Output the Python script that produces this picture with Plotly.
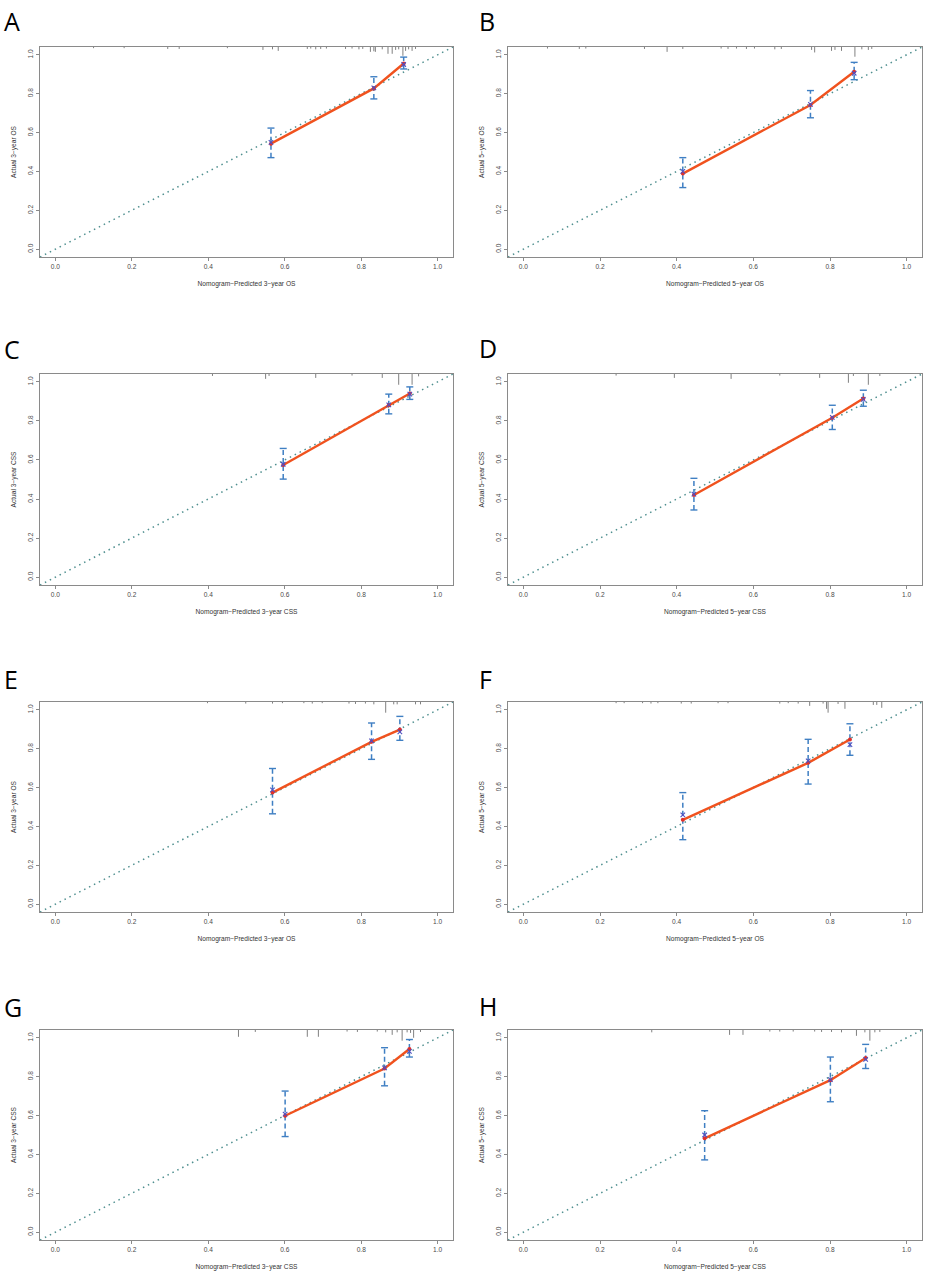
import plotly.graph_objects as go

# ---------------- data ----------------
panel_labels = ["A", "B", "C", "D", "E", "F", "G", "H"]
x_titles = ["Nomogram−Predicted 3−year OS", "Nomogram−Predicted 5−year OS",
            "Nomogram−Predicted 3−year CSS", "Nomogram−Predicted 5−year CSS",
            "Nomogram−Predicted 3−year OS", "Nomogram−Predicted 5−year OS",
            "Nomogram−Predicted 3−year CSS", "Nomogram−Predicted 5−year CSS"]
y_titles = ["Actual 3−year OS", "Actual 5−year OS",
            "Actual 3−year CSS", "Actual 5−year CSS",
            "Actual 3−year OS", "Actual 5−year OS",
            "Actual 3−year CSS", "Actual 5−year CSS"]

tick_vals = [0.0, 0.2, 0.4, 0.6, 0.8, 1.0]
tick_text = ["0.0", "0.2", "0.4", "0.6", "0.8", "1.0"]

# predicted (x) and observed (y) calibration points
pred = [[0.564, 0.833, 0.911],
        [0.416, 0.749, 0.863],
        [0.596, 0.872, 0.927],
        [0.445, 0.806, 0.887],
        [0.568, 0.827, 0.901],
        [0.416, 0.743, 0.852],
        [0.601, 0.861, 0.926],
        [0.473, 0.801, 0.893]]
obs = [[0.543, 0.827, 0.955],
       [0.389, 0.742, 0.913],
       [0.574, 0.880, 0.940],
       [0.421, 0.816, 0.915],
       [0.574, 0.835, 0.898],
       [0.434, 0.727, 0.847],
       [0.599, 0.842, 0.942],
       [0.483, 0.782, 0.896]]
# bias-corrected estimates (blue X)
bc = [[0.550, 0.830, 0.950],
      [0.400, 0.745, 0.905],
      [0.578, 0.882, 0.937],
      [0.425, 0.818, 0.910],
      [0.588, 0.840, 0.886],
      [0.460, 0.737, 0.821],
      [0.607, 0.845, 0.930],
      [0.500, 0.785, 0.889]]
# confidence limits
ci_lo = [[0.471, 0.773, 0.927],
         [0.317, 0.676, 0.872],
         [0.502, 0.836, 0.910],
         [0.344, 0.756, 0.875],
         [0.465, 0.745, 0.843],
         [0.332, 0.618, 0.766],
         [0.492, 0.753, 0.901],
         [0.372, 0.671, 0.842]]
ci_hi = [[0.623, 0.887, 0.988],
         [0.471, 0.816, 0.961],
         [0.659, 0.937, 0.974],
         [0.506, 0.880, 0.957],
         [0.698, 0.932, 0.966],
         [0.574, 0.848, 0.928],
         [0.726, 0.949, 0.991],
         [0.625, 0.901, 0.966]]

# spike histogram of predictions along the top
rug_x = [
    [0.10, 0.18, 0.294, 0.324, 0.45, 0.543, 0.568, 0.583, 0.659, 0.668, 0.681, 0.694, 0.709, 0.759, 0.776,
     0.794, 0.804, 0.824, 0.833, 0.837, 0.855, 0.870, 0.881, 0.890, 0.898, 0.909, 0.916, 0.924, 0.933, 0.942],
    [0.063, 0.146, 0.163, 0.316, 0.375, 0.416, 0.516, 0.534, 0.556, 0.582, 0.603, 0.656, 0.673, 0.752,
     0.760, 0.804, 0.813, 0.830, 0.865, 0.883, 0.900, 0.909],
    [0.411, 0.550, 0.559, 0.681, 0.776, 0.855, 0.898, 0.933, 0.950],
    [0.242, 0.394, 0.542, 0.669, 0.773, 0.848, 0.861, 0.900, 0.930],
    [0.398, 0.498, 0.568, 0.594, 0.650, 0.672, 0.698, 0.768, 0.785, 0.811, 0.833, 0.864, 0.885, 0.894,
     0.942, 0.955],
    [0.242, 0.263, 0.311, 0.333, 0.351, 0.412, 0.438, 0.508, 0.534, 0.669, 0.691, 0.717, 0.747, 0.782,
     0.791, 0.795, 0.821, 0.839, 0.913, 0.922, 0.935],
    [0.479, 0.523, 0.659, 0.688, 0.763, 0.790, 0.842, 0.864, 0.881, 0.894, 0.907, 0.920, 0.929, 0.937, 0.955],
    [0.335, 0.538, 0.573, 0.643, 0.669, 0.704, 0.760, 0.778, 0.804, 0.830, 0.869, 0.891, 0.904, 0.917, 0.930],
]
rug_h = [
    [0.006, 0.006, 0.010, 0.010, 0.006, 0.015, 0.012, 0.020, 0.010, 0.008, 0.012, 0.010, 0.008, 0.010, 0.008,
     0.012, 0.010, 0.025, 0.022, 0.025, 0.012, 0.035, 0.035, 0.015, 0.012, 0.045, 0.020, 0.012, 0.020, 0.010],
    [0.008, 0.010, 0.008, 0.010, 0.025, 0.010, 0.008, 0.010, 0.008, 0.010, 0.008, 0.012, 0.010, 0.015,
     0.028, 0.020, 0.015, 0.020, 0.050, 0.012, 0.015, 0.010],
    [0.010, 0.025, 0.010, 0.020, 0.008, 0.020, 0.055, 0.055, 0.012],
    [0.008, 0.020, 0.025, 0.008, 0.020, 0.045, 0.010, 0.055, 0.010],
    [0.006, 0.008, 0.008, 0.006, 0.006, 0.008, 0.006, 0.008, 0.010, 0.008, 0.012, 0.055, 0.012, 0.012,
     0.012, 0.012],
    [0.006, 0.006, 0.006, 0.008, 0.006, 0.008, 0.008, 0.006, 0.006, 0.008, 0.006, 0.008, 0.020, 0.008,
     0.035, 0.055, 0.010, 0.035, 0.015, 0.015, 0.030],
    [0.035, 0.010, 0.035, 0.035, 0.008, 0.010, 0.008, 0.012, 0.025, 0.012, 0.055, 0.012, 0.015, 0.040, 0.010],
    [0.012, 0.025, 0.025, 0.008, 0.008, 0.008, 0.008, 0.010, 0.010, 0.012, 0.030, 0.012, 0.055, 0.012, 0.010],
]

# ---------------- styling ----------------
W, H = 927, 1276
AX_RANGE = [-0.04, 1.04]
RED = "#F0521E"
BLUE_ERR = "#3F7FC3"
BLUE_X = "#5050C0"
DOT_RED = "#E0302A"
DIAG = "#4F8F8F"
RUG = "#606060"
BOX = "#8A8A8A"
FONT = "Liberation Sans"

col_px = [(40, 453), (508, 922)]
row_px = [(47, 257), (374, 585), (702, 912), (1030, 1240)]
label_pos = [(2, 2), (477, 2), (2, 330), (477, 329), (2, 660), (477, 660), (2, 988), (477, 987)]

fig = go.Figure()
layout_axes = {}

for i in range(8):
    r, c = divmod(i, 2)
    n = "" if i == 0 else str(i + 1)
    xa, ya = "x" + n, "y" + n
    x0, x1 = col_px[c]
    y0, y1 = row_px[r]
    layout_axes["xaxis" + n] = dict(
        domain=[x0 / W, x1 / W], anchor=ya, range=AX_RANGE,
        tickvals=tick_vals, ticktext=tick_text, ticks="outside", ticklen=3,
        tickcolor=BOX, tickwidth=1, showline=True, linecolor=BOX, linewidth=1,
        mirror=True, showgrid=False, zeroline=False,
        tickfont=dict(family=FONT, size=6.6, color="#4a4a4a"),
        title=dict(text=x_titles[i], font=dict(family=FONT, size=6.6, color="#333333"), standoff=12),
    )
    layout_axes["yaxis" + n] = dict(
        domain=[1 - y1 / H, 1 - y0 / H], anchor=xa, range=AX_RANGE,
        tickvals=tick_vals, ticktext=tick_text, ticks="outside", ticklen=3,
        tickcolor=BOX, tickwidth=1, showline=True, linecolor=BOX, linewidth=1,
        mirror=True, showgrid=False, zeroline=False, tickangle=-90,
        tickfont=dict(family=FONT, size=6.6, color="#4a4a4a"),
        title=dict(text=y_titles[i], font=dict(family=FONT, size=6.6, color="#333333"), standoff=10),
    )

    # ideal diagonal
    fig.add_trace(go.Scatter(x=AX_RANGE, y=AX_RANGE, mode="lines", xaxis=xa, yaxis=ya,
                             line=dict(color=DIAG, width=1.5, dash="1.5px,4px"), showlegend=False,
                             hoverinfo="skip"))
    # spike histogram on top
    rx, ry = [], []
    for xv, hv in zip(rug_x[i], rug_h[i]):
        rx += [xv, xv, None]
        ry += [AX_RANGE[1], AX_RANGE[1] - hv, None]
    fig.add_trace(go.Scatter(x=rx, y=ry, mode="lines", xaxis=xa, yaxis=ya,
                             line=dict(color=RUG, width=0.8), showlegend=False, hoverinfo="skip"))
    # error bars (dashed)
    ex, ey = [], []
    for xv, lo, hi in zip(pred[i], ci_lo[i], ci_hi[i]):
        ex += [xv, xv, None]
        ey += [lo, hi, None]
    fig.add_trace(go.Scatter(x=ex, y=ey, mode="lines", xaxis=xa, yaxis=ya,
                             line=dict(color=BLUE_ERR, width=1.5, dash="5px,3px"),
                             showlegend=False, hoverinfo="skip"))
    # caps
    fig.add_trace(go.Scatter(x=pred[i] + pred[i], y=ci_lo[i] + ci_hi[i], mode="markers",
                             xaxis=xa, yaxis=ya,
                             marker=dict(symbol="line-ew", size=5,
                                         line=dict(color=BLUE_ERR, width=1.4)),
                             showlegend=False, hoverinfo="skip"))
    # observed line
    fig.add_trace(go.Scatter(x=pred[i], y=obs[i], mode="lines+markers", xaxis=xa, yaxis=ya,
                             line=dict(color=RED, width=2.4),
                             marker=dict(color=DOT_RED, size=4), showlegend=False))
    # bias-corrected X
    fig.add_trace(go.Scatter(x=pred[i], y=bc[i], mode="markers", xaxis=xa, yaxis=ya,
                             marker=dict(symbol="x-thin", size=4.5,
                                         line=dict(color=BLUE_X, width=1.1)),
                             showlegend=False))

annotations = []
for lab, (lx, ly) in zip(panel_labels, label_pos):
    annotations.append(dict(text=lab, x=lx / W, y=1 - ly / H, xref="paper", yref="paper",
                            xanchor="left", yanchor="top", showarrow=False,
                            font=dict(family="Open Sans", size=25, color="black")))

fig.update_layout(width=W, height=H, margin=dict(l=0, r=0, t=0, b=0),
                  paper_bgcolor="white", plot_bgcolor="white",
                  annotations=annotations, **layout_axes)

fig.write_html("out.html", config={"displayModeBar": False},
               post_script="document.body.style.margin='0';document.body.style.overflow='hidden';")
